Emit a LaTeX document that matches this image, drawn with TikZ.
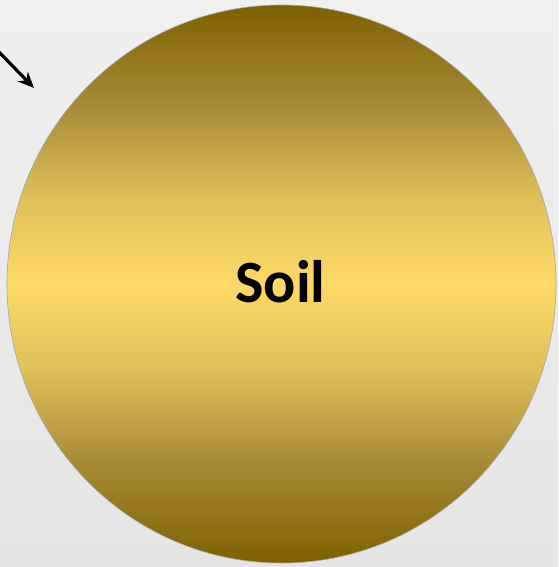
\documentclass[tikz,border=0pt]{standalone}
\usepackage{fontspec}
\newfontfamily\soilfont{Carlito}
\usepackage{tikz}
\usetikzlibrary{shapes.geometric, arrows.meta}

\definecolor{golddark}{HTML}{7F6000}
\definecolor{goldbrown}{HTML}{A88A36}
\definecolor{goldmid}{HTML}{E2C05A}
\definecolor{goldlight}{HTML}{FFD966}
\definecolor{bgtop}{HTML}{F0F0F0}
\definecolor{bgbottom}{HTML}{E5E5E5}
\definecolor{rimgray}{HTML}{A6A6A6}

\pgfdeclareverticalshading{soilshade}{100bp}{color(0bp)=(golddark); color(25bp)=(golddark); color(34bp)=(goldbrown); color(42.5bp)=(goldmid); color(50bp)=(goldlight); color(57.5bp)=(goldmid); color(66bp)=(goldbrown); color(75bp)=(golddark); color(100bp)=(golddark)}

\tikzset{
  soilball/.style={ellipse, draw=rimgray, line width=0.6pt, shading=soilshade,
    minimum width=549pt, minimum height=558pt, inner sep=0pt},
  soiltext/.style={font=\soilfont\bfseries\fontsize{60}{62}\selectfont, inner sep=0pt},
  inarrow/.style={-{Stealth[length=16pt, width=14pt]}, line width=3.2pt, black}
}

\begin{document}
\begin{tikzpicture}[x=1pt, y=-1pt]
  % background
  \shade[top color=bgtop, bottom color=bgbottom] (0,0) rectangle (558,567);
  \useasboundingbox (0,0) rectangle (558,567);

  % soil disc
  \node (soil) [soilball] at (281.5,284) {};
  \node (soillabel) [soiltext, anchor=base] at (280.5,302) {Soil};

  % incoming arrow
  \coordinate (src) at (-2,51);
  \coordinate (tip) at (34,88);
  \draw[inarrow] (src) -- (tip);
\end{tikzpicture}
\end{document}
